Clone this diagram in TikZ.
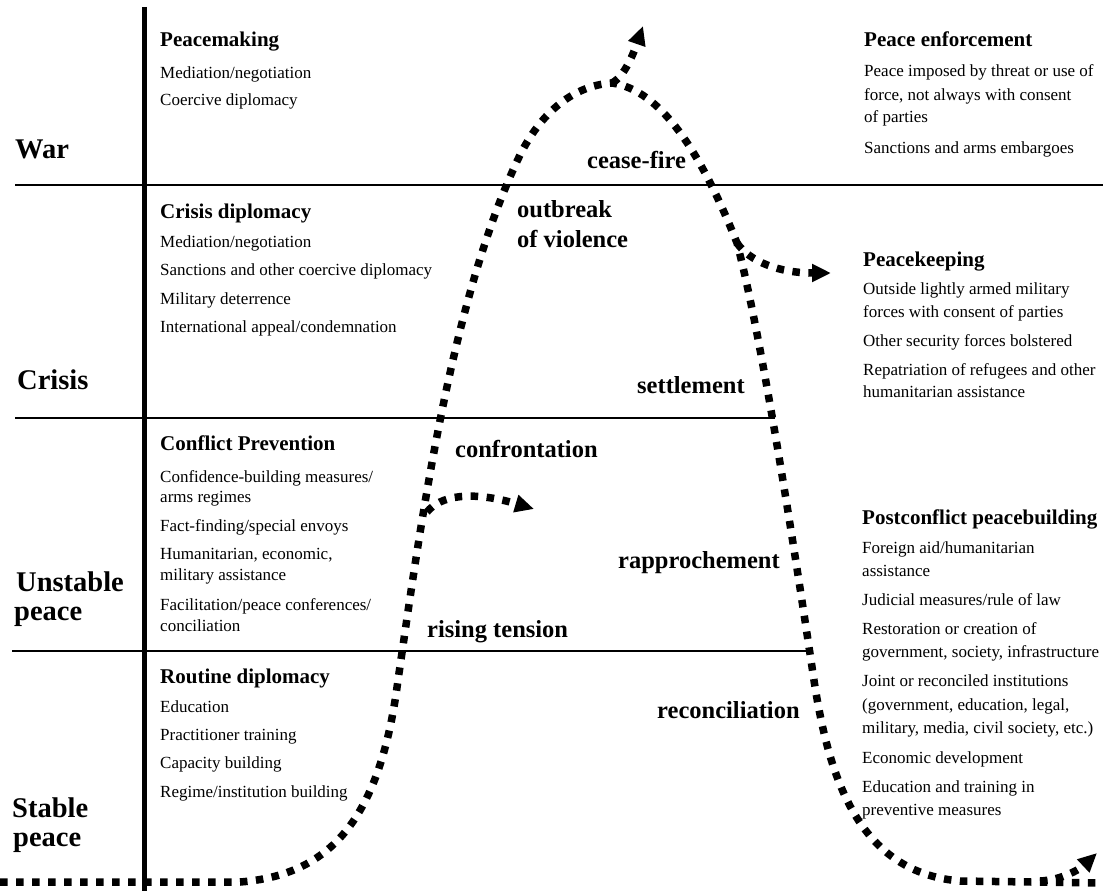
\documentclass[tikz,border=0pt]{standalone}
\usepackage{fontspec}
\setmainfont{Liberation Serif}
\usetikzlibrary{arrows.meta}
\tikzset{
  rowlabel/.style={font=\bfseries\fontsize{28.5}{30}\selectfont, anchor=base west, inner sep=0pt},
  head/.style={font=\bfseries\fontsize{21}{23}\selectfont, anchor=base west, inner sep=0pt},
  item/.style={font=\fontsize{17}{19}\selectfont, anchor=base west, inner sep=0pt},
  stage/.style={font=\bfseries\fontsize{24.5}{26}\selectfont, anchor=base west, inner sep=0pt},
  dotpath/.style={line width=7.5pt, dash pattern=on 7.5pt off 8.5pt},
  tip/.style={-{Triangle[length=19pt,width=17pt]}},
  rule/.style={line width=1.8pt},
}
\begin{document}
\begin{tikzpicture}[x=1pt,y=-1pt]
\useasboundingbox (0,0) rectangle (1103,891);
\fill[white] (0,0) rectangle (1103,891);

% ---- curve key points
\coordinate (L0) at (0,882);
\coordinate (L1) at (240,882);
\coordinate (L2) at (398,680);
\coordinate (Lc) at (427,512);
\coordinate (L3) at (520,155);
\coordinate (P) at (612,83);
\coordinate (Tup) at (643,26);
\coordinate (R1) at (737,243);
\coordinate (Tpk) at (831,273);
\coordinate (R2) at (812,667);
\coordinate (R3) at (960,881);
\coordinate (R4) at (1103,883);
\coordinate (Bb) at (1040,881);
\coordinate (Tbr) at (1097,853);
\coordinate (Tcf) at (534,509);

% ---- horizontal rules and axis
\coordinate (A0) at (144,7);
\coordinate (A1) at (144,891);
\coordinate (H1a) at (15,185);
\coordinate (H1b) at (1103,185);
\coordinate (H2a) at (15,418);
\coordinate (H2b) at (775,418);
\coordinate (H3a) at (12,651);
\coordinate (H3b) at (810,651);
\draw[rule] (H1a) -- (H1b);
\draw[rule] (H2a) -- (H2b);
\draw[rule] (H3a) -- (H3b);
\draw[line width=5pt] (A0) -- (A1);

% ---- dotted curve
\draw[dotpath] (L0) -- (L1) .. controls (330,875) and (380,820) .. (L2)
  .. controls (420,530) and (450,300) .. (L3)
  .. controls (545,105) and (580,85) .. (P)
  .. controls (660,90) and (700,150) .. (R1)
  .. controls (760,330) and (790,520) .. (R2)
  .. controls (826,765) and (852,872) .. (R3) -- (R4);
\draw[dotpath, tip] (P) .. controls (625,76) and (634,52) .. (Tup);
\draw[dotpath, tip] (R1) .. controls (750,262) and (780,273) .. (Tpk);
\draw[dotpath, tip] (Lc) .. controls (440,496) and (470,490) .. (Tcf);
\draw[dotpath, tip] (Bb) .. controls (1062,880) and (1080,869) .. (Tbr);

% ---- row labels
\node[rowlabel] (war) at (15,158) {War};
\node[rowlabel] (crisis) at (17,389) {Crisis};
\node[rowlabel] (unst1) at (16,591) {Unstable};
\node[rowlabel] (unst2) at (14,620) {peace};
\node[rowlabel] (stab1) at (12,817) {Stable};
\node[rowlabel] (stab2) at (13,846) {peace};

% ---- left column
\node[head] (pm) at (160,47) {Peacemaking};
\node[item] (pm1) at (160,78) {Mediation/negotiation};
\node[item] (pm2) at (160,105) {Coercive diplomacy};

\node[head] (cd) at (160,218) {Crisis diplomacy};
\node[item] (cd1) at (160,247) {Mediation/negotiation};
\node[item] (cd2) at (160,275) {Sanctions and other coercive diplomacy};
\node[item] (cd3) at (160,304) {Military deterrence};
\node[item] (cd4) at (160,332) {International appeal/condemnation};

\node[head] (cp) at (160,450) {Conflict Prevention};
\node[item] (cp1) at (160,482) {Confidence-building measures/};
\node[item] (cp1b) at (160,502) {arms regimes};
\node[item] (cp2) at (160,531) {Fact-finding/special envoys};
\node[item] (cp3) at (160,559) {Humanitarian, economic,};
\node[item] (cp3b) at (160,580) {military assistance};
\node[item] (cp4) at (160,610) {Facilitation/peace conferences/};
\node[item] (cp4b) at (160,631) {conciliation};

\node[head] (rd) at (160,683) {Routine diplomacy};
\node[item] (rd1) at (160,712) {Education};
\node[item] (rd2) at (160,740) {Practitioner training};
\node[item] (rd3) at (160,768) {Capacity building};
\node[item] (rd4) at (160,797) {Regime/institution building};

% ---- right column
\node[head] (pe) at (864,47) {Peace enforcement};
\node[item] (pe1) at (864,77) {Peace imposed by threat or use of};
\node[item] (pe1b) at (864,100) {force, not always with consent};
\node[item] (pe1c) at (864,122) {of parties};
\node[item] (pe2) at (864,153) {Sanctions and arms embargoes};

\node[head] (pk) at (863,266) {Peacekeeping};
\node[item] (pk1) at (863,294) {Outside lightly armed military};
\node[item] (pk1b) at (863,317) {forces with consent of parties};
\node[item] (pk2) at (863,346) {Other security forces bolstered};
\node[item] (pk3) at (863,375) {Repatriation of refugees and other};
\node[item] (pk3b) at (863,397) {humanitarian assistance};

\node[head] (pb) at (862,524) {Postconflict peacebuilding};
\node[item] (pb1) at (862,553) {Foreign aid/humanitarian};
\node[item] (pb1b) at (862,576) {assistance};
\node[item] (pb2) at (862,605) {Judicial measures/rule of law};
\node[item] (pb3) at (862,634) {Restoration or creation of};
\node[item] (pb3b) at (862,657) {government, society, infrastructure};
\node[item] (pb4) at (862,686) {Joint or reconciled institutions};
\node[item] (pb4b) at (862,710) {(government, education, legal,};
\node[item] (pb4c) at (862,733) {military, media, civil society, etc.)};
\node[item] (pb5) at (862,763) {Economic development};
\node[item] (pb6) at (862,792) {Education and training in};
\node[item] (pb6b) at (862,815) {preventive measures};

% ---- stage labels on the curve
\node[stage] (ceasefire) at (587,168) {cease-fire};
\node[stage] (outbreak) at (517,217) {outbreak};
\node[stage] (violence) at (517,247) {of violence};
\node[stage] (settlement) at (637,393) {settlement};
\node[stage] (confront) at (455,457) {confrontation};
\node[stage] (rapproch) at (618,568) {rapprochement};
\node[stage] (rising) at (427,637) {rising tension};
\node[stage] (reconcil) at (657,718) {reconciliation};
\end{tikzpicture}
\end{document}
